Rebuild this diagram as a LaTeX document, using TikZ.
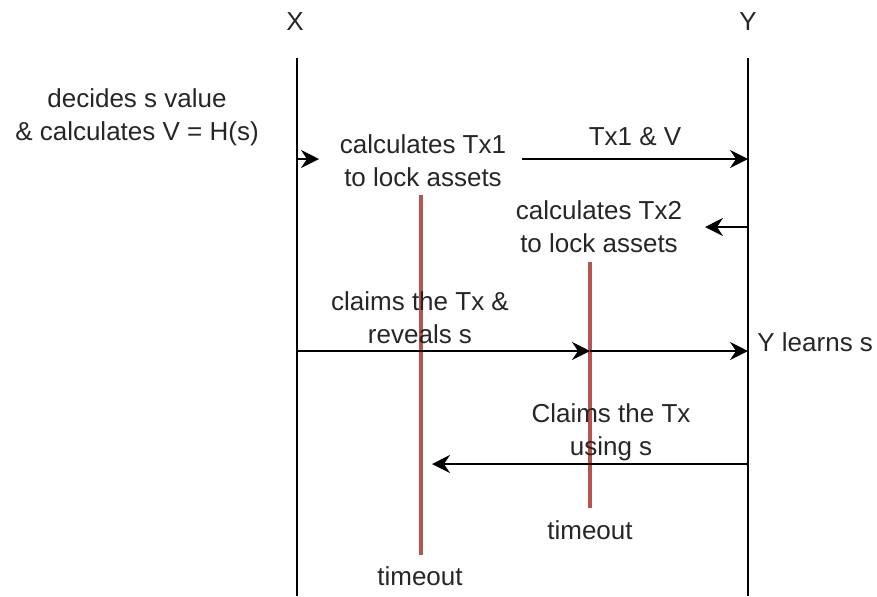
\documentclass[tikz,border=0pt]{standalone}
\usepackage{fontspec}
\setmainfont{Liberation Sans}
\usetikzlibrary{arrows.meta,positioning}

\definecolor{lockred}{RGB}{184,84,80}

\begin{document}
\begin{tikzpicture}[x=0.5pt, y=-0.5pt,
    every node/.style={font=\fontsize{13}{16.5}\selectfont, align=center, inner sep=0pt, text=black!85},
    life/.style={line width=1pt},
    msg/.style={line width=1pt, -{Stealth[length=9pt, width=9pt, inset=3pt]}},
    timer/.style={line width=1.6pt, lockred}]

    \useasboundingbox (0,0) rectangle (877,596);

    % Lifelines
    \node (X) at (295,22) {X};
    \node (Y) at (748,22) {Y};
    \coordinate (Xtop) at (297,58);
    \coordinate (Xbot) at (297,596);
    \coordinate (Ytop) at (748,58);
    \coordinate (Ybot) at (748,596);
    \draw[life] (Xtop) -- (Xbot);
    \draw[life] (Ytop) -- (Ybot);

    % Timeouts
    \coordinate (T1top) at (421,195);
    \coordinate (T1bot) at (421,555);
    \coordinate (T2top) at (590,262);
    \coordinate (T2bot) at (590,508);
    \draw[timer] (T1top) -- (T1bot);
    \draw[timer] (T2top) -- (T2bot);
    \node (timeout1) at (420,576) {timeout};
    \node (timeout2) at (590,530) {timeout};

    % Steps
    \node (decide) at (137,117) {decides s value\\\& calculates V = H(s)};
    \node (calc1) at (423,161) {calculates Tx1\\to lock assets};
    \node (calc2) at (599,227) {calculates Tx2\\to lock assets};
    \node (claimX) at (420,318) {claims the Tx \&\\reveals s};
    \node[anchor=west] (learn) at (757,342) {Y learns s};
    \node (claimY) at (611,432) {Claims the Tx\\using s};

    % Messages
    \coordinate (a1) at (297,159);
    \coordinate (a1e) at (319,159);
    \coordinate (a2) at (522,159);
    \coordinate (a2e) at (748,159);
    \coordinate (a3) at (748,227);
    \coordinate (a3e) at (705,227);
    \coordinate (a4) at (297,351);
    \coordinate (a4m) at (590,351);
    \coordinate (a4e) at (748,351);
    \coordinate (a5) at (748,464);
    \coordinate (a5e) at (432,464);

    \draw[msg] (a1) -- (a1e);
    \draw[msg] (a2) -- (a2e) node[midway, above=6pt] (send) {Tx1 \& V};
    \draw[msg] (a3) -- (a3e);
    \draw[msg] (a4) -- (a4m);
    \draw[msg] (a4m) -- (a4e);
    \draw[msg] (a5) -- (a5e);
\end{tikzpicture}
\end{document}
